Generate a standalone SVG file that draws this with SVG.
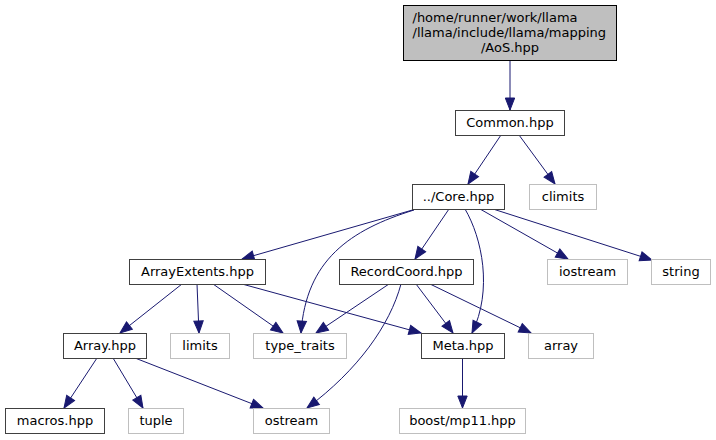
<svg xmlns="http://www.w3.org/2000/svg" width="716" height="440" viewBox="0 0 716 440">
<style>
.n rect{fill:#ffffff;stroke:#404040;stroke-width:1}
.g rect{fill:#ffffff;stroke:#bfbfbf;stroke-width:1}
.root rect{fill:#bfbfbf;stroke:#000000;stroke-width:1}
text{font-family:"DejaVu Sans","Liberation Sans",sans-serif;font-size:13px;fill:#000000}
.c{text-anchor:middle}
#edges path{fill:none;stroke:#191970;stroke-width:1;marker-end:url(#ah)}
</style>
<defs>
<marker id="ah" viewBox="-1 -6 14 12" refX="12" refY="0" markerWidth="14" markerHeight="12" markerUnits="userSpaceOnUse" orient="auto">
<path d="M0,-4.7 L12,0 L0,4.7 z" fill="#191970" stroke="#191970" stroke-width="1"/>
</marker>
</defs>
<rect width="716" height="440" fill="#ffffff"/>
<g id="edges">
<path d="M510,60 L510,110"/>
<path d="M501,135 L468,184"/>
<path d="M519,135 L555,184"/>
<path d="M416,209 L242,259"/>
<path d="M414,210 C350,230 306,260 301,333"/>
<path d="M449,209 L415,259"/>
<path d="M465,209 C482,238 493,290 472,333"/>
<path d="M480,209 L568,259"/>
<path d="M493,209 L652,260"/>
<path d="M182,284 L120,333"/>
<path d="M197,284 L199,333"/>
<path d="M213,284 L283,333"/>
<path d="M242,284 L421,333"/>
<path d="M389,284 L316,333"/>
<path d="M401,284 C390,325 358,370 307,408"/>
<path d="M416,284 L453,333"/>
<path d="M430,284 L531,333"/>
<path d="M97,358 L64,408"/>
<path d="M113,358 L143,408"/>
<path d="M135,358 L263,408"/>
<path d="M462.5,358 L462.5,408"/>
</g>
<g id="node-aos" class="root"><rect x="403.5" y="5.5" width="213" height="55"/>
<text x="412.5" y="22">/home/runner/work/llama</text>
<text x="412.5" y="37">/llama/include/llama/mapping</text>
<text x="510" y="52" class="c">/AoS.hpp</text></g>
<g id="node-common" class="n"><rect x="455.5" y="110.5" width="109" height="25"/><text x="510" y="127" class="c">Common.hpp</text></g>
<g id="node-core" class="n"><rect x="412.5" y="184.5" width="92" height="25"/><text x="458.5" y="201" class="c">../Core.hpp</text></g>
<g id="node-climits" class="g"><rect x="529.5" y="184.5" width="67" height="25"/><text x="563" y="201" class="c">climits</text></g>
<g id="node-arrayextents" class="n"><rect x="129.5" y="259.5" width="136" height="25"/><text x="197.5" y="276" class="c">ArrayExtents.hpp</text></g>
<g id="node-recordcoord" class="n"><rect x="339.5" y="259.5" width="134" height="25"/><text x="406.5" y="276" class="c">RecordCoord.hpp</text></g>
<g id="node-iostream" class="g"><rect x="547.5" y="259.5" width="80" height="25"/><text x="587.5" y="276" class="c">iostream</text></g>
<g id="node-string" class="g"><rect x="651.5" y="259.5" width="59" height="25"/><text x="681" y="276" class="c">string</text></g>
<g id="node-array-hpp" class="n"><rect x="63.5" y="333.5" width="83" height="25"/><text x="105" y="350" class="c">Array.hpp</text></g>
<g id="node-limits" class="g"><rect x="170.5" y="333.5" width="59" height="25"/><text x="200" y="350" class="c">limits</text></g>
<g id="node-type-traits" class="g"><rect x="253.5" y="333.5" width="93" height="25"/><text x="300" y="350" class="c">type_traits</text></g>
<g id="node-meta" class="n"><rect x="421.5" y="333.5" width="83" height="25"/><text x="463" y="350" class="c">Meta.hpp</text></g>
<g id="node-array" class="g"><rect x="528.5" y="333.5" width="65" height="25"/><text x="561" y="350" class="c">array</text></g>
<g id="node-macros" class="n"><rect x="5.5" y="408.5" width="99" height="25"/><text x="55" y="425" class="c">macros.hpp</text></g>
<g id="node-tuple" class="g"><rect x="128.5" y="408.5" width="55" height="25"/><text x="156" y="425" class="c">tuple</text></g>
<g id="node-ostream" class="g"><rect x="253.5" y="408.5" width="76" height="25"/><text x="291.5" y="425" class="c">ostream</text></g>
<g id="node-boost" class="g"><rect x="399.5" y="408.5" width="126" height="25"/><text x="462.5" y="425" class="c">boost/mp11.hpp</text></g>
</svg>
